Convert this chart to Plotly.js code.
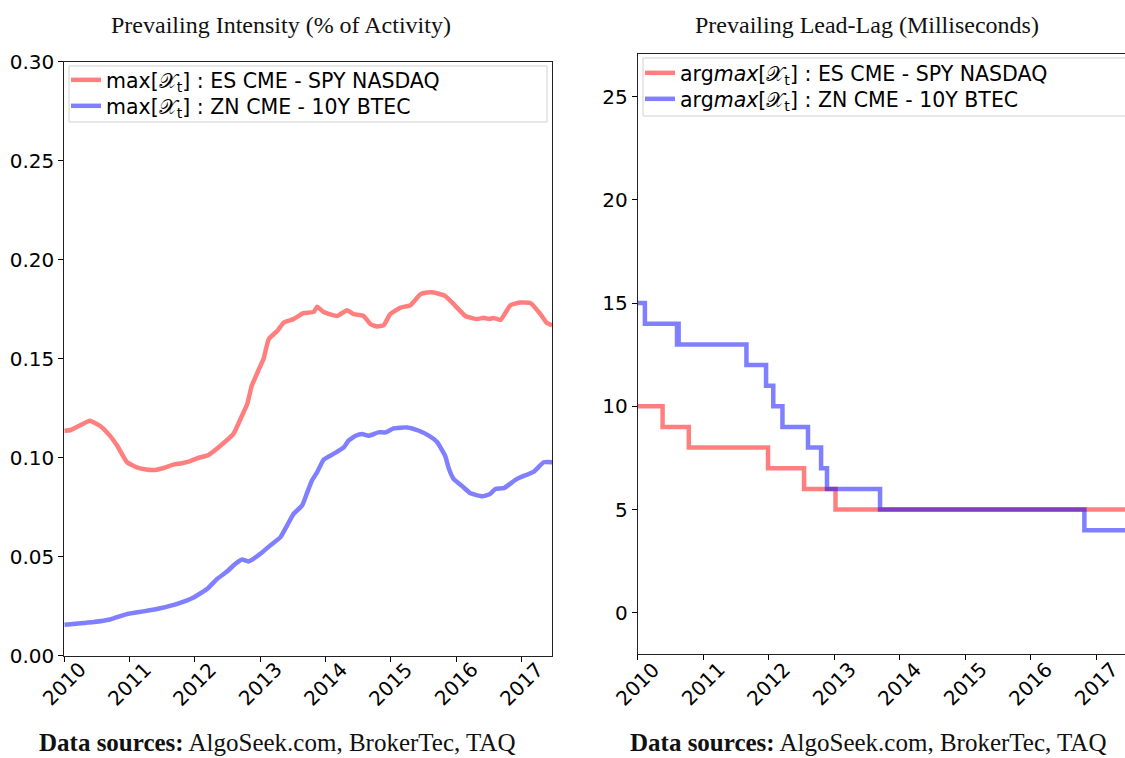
<!DOCTYPE html>
<html>
<head>
<meta charset="utf-8">
<script src="https://cdn.plot.ly/plotly-3.0.1.min.js"></script>
<style>html,body{margin:0;padding:0;background:#fff;}#chart{width:1125px;height:758px;}</style>
</head>
<body>
<div id="chart"></div>
<script>
// ---- Left panel: prevailing intensity (% of activity) ----
const esTime = [2010.00, 2010.10, 2010.25, 2010.39, 2010.55, 2010.70, 2010.81, 2010.96, 2011.11, 2011.25, 2011.39, 2011.52, 2011.67, 2011.80, 2011.93, 2012.03, 2012.21, 2012.39, 2012.59, 2012.72, 2012.80, 2012.87, 2012.98, 2013.05, 2013.13, 2013.26, 2013.36, 2013.51, 2013.66, 2013.82, 2013.87, 2013.97, 2014.18, 2014.33, 2014.43, 2014.58, 2014.69, 2014.79, 2014.89, 2014.99, 2015.15, 2015.30, 2015.45, 2015.55, 2015.66, 2015.83, 2015.99, 2016.14, 2016.32, 2016.42, 2016.50, 2016.57, 2016.68, 2016.83, 2016.98, 2017.14, 2017.29, 2017.39, 2017.47];
const esIntensity = [0.1136, 0.1140, 0.1165, 0.1187, 0.1160, 0.1110, 0.1060, 0.0977, 0.0951, 0.0940, 0.0938, 0.0948, 0.0965, 0.0972, 0.0983, 0.0997, 0.1014, 0.1060, 0.1120, 0.1212, 0.1270, 0.1363, 0.1447, 0.1498, 0.1599, 0.1640, 0.1683, 0.1700, 0.1730, 0.1736, 0.1763, 0.1736, 0.1716, 0.1745, 0.1725, 0.1716, 0.1674, 0.1663, 0.1669, 0.1725, 0.1758, 0.1770, 0.1825, 0.1834, 0.1834, 0.1817, 0.1766, 0.1716, 0.1700, 0.1707, 0.1700, 0.1706, 0.1696, 0.1770, 0.1784, 0.1780, 0.1725, 0.1680, 0.1669];
const znTime = [2010.00, 2010.45, 2010.70, 2010.96, 2011.21, 2011.47, 2011.73, 2011.98, 2012.19, 2012.34, 2012.49, 2012.62, 2012.72, 2012.82, 2013.00, 2013.15, 2013.31, 2013.41, 2013.51, 2013.64, 2013.72, 2013.79, 2013.87, 2013.97, 2014.12, 2014.28, 2014.35, 2014.46, 2014.56, 2014.66, 2014.81, 2014.92, 2015.04, 2015.25, 2015.43, 2015.58, 2015.71, 2015.83, 2015.89, 2015.96, 2016.11, 2016.22, 2016.40, 2016.52, 2016.60, 2016.73, 2016.93, 2017.19, 2017.34, 2017.47];
const znIntensity = [0.0156, 0.0170, 0.0183, 0.0210, 0.0224, 0.0240, 0.0262, 0.0294, 0.0338, 0.0388, 0.0425, 0.0464, 0.0486, 0.0476, 0.0514, 0.0556, 0.0599, 0.0657, 0.0716, 0.0758, 0.0825, 0.0884, 0.0926, 0.0990, 0.1019, 0.1052, 0.1086, 0.1111, 0.1120, 0.1111, 0.1128, 0.1128, 0.1148, 0.1153, 0.1136, 0.1111, 0.1078, 0.1010, 0.0943, 0.0893, 0.0851, 0.0820, 0.0805, 0.0817, 0.0842, 0.0846, 0.0893, 0.0930, 0.0977, 0.0977];

// ---- Right panel: prevailing lead-lag (milliseconds), step changes ----
const esLagTime = [2010.00, 2010.38, 2010.78, 2011.99, 2012.54, 2013.02, 2017.47];
const esLag = [10, 9, 8, 7, 6, 5, 5];
const znLagTime = [2010.00, 2010.11, 2010.60, 2010.61, 2010.625, 2011.66, 2011.96, 2012.07, 2012.21, 2012.60, 2012.80, 2012.89, 2013.70, 2016.82, 2017.47];
const znLag = [15, 14, 13, 14, 13, 12, 11, 10, 9, 8, 7, 6, 5, 4, 4];

const yearTicks = [2010, 2011, 2012, 2013, 2014, 2015, 2016, 2017];
const yearLabels = ['2010', '2011', '2012', '2013', '2014', '2015', '2016', '2017'];

const leftTitle = 'Prevailing Intensity (% of Activity)';
const rightTitle = 'Prevailing Lead-Lag (Milliseconds)';
const footer = '<b>Data sources:</b> AlgoSeek.com, BrokerTec, TAQ';

const X = '𝒳';
const nameES = 'max[' + X + '<sub>t</sub>] : ES CME - SPY NASDAQ';
const nameZN = 'max[' + X + '<sub>t</sub>] : ZN CME - 10Y BTEC';
const nameES2 = 'arg<i>max</i>[' + X + '<sub>t</sub>] : ES CME - SPY NASDAQ';
const nameZN2 = 'arg<i>max</i>[' + X + '<sub>t</sub>] : ZN CME - 10Y BTEC';

const RED = 'rgba(255,0,0,0.5)';
const BLUE = 'rgba(0,0,255,0.5)';
const LW = 4.5;

const W = 1125, H = 758;
const px = v => v / W;
const py = v => 1 - v / H;

const traces = [
  {x: esTime, y: esIntensity, type: 'scatter', mode: 'lines', name: nameES,
   line: {color: RED, width: LW, shape: 'spline', smoothing: 0.4}, xaxis: 'x', yaxis: 'y', legend: 'legend'},
  {x: znTime, y: znIntensity, type: 'scatter', mode: 'lines', name: nameZN,
   line: {color: BLUE, width: LW, shape: 'spline', smoothing: 0.4}, xaxis: 'x', yaxis: 'y', legend: 'legend2'},
  {x: esLagTime, y: esLag, type: 'scatter', mode: 'lines', name: nameES2,
   line: {color: RED, width: LW, shape: 'hv'}, xaxis: 'x2', yaxis: 'y2', legend: 'legend3'},
  {x: znLagTime, y: znLag, type: 'scatter', mode: 'lines', name: nameZN2,
   line: {color: BLUE, width: LW, shape: 'hv'}, xaxis: 'x2', yaxis: 'y2', legend: 'legend4'}
];

const tickFont = {family: 'DejaVu Sans', size: 20, color: '#000'};
const axisCommon = {
  showgrid: false, zeroline: false, showline: true, linecolor: '#222', linewidth: 1,
  ticks: 'outside', ticklen: 5, tickwidth: 1, tickcolor: '#000', tickfont: tickFont
};

const legendFont = {family: 'DejaVu Sans', size: 20.5, color: '#000'};
function mkLegend(xp, yp) {
  return {x: px(xp), y: py(yp), xanchor: 'left', yanchor: 'middle',
    bgcolor: 'rgba(0,0,0,0)', borderwidth: 0, font: legendFont, itemwidth: 30};
}

const annotations = [
  {text: leftTitle, xref: 'paper', yref: 'paper', x: px(281), y: py(25), showarrow: false,
   xanchor: 'center', yanchor: 'middle', font: {family: 'Liberation Serif', size: 24, color: '#111'}},
  {text: rightTitle, xref: 'paper', yref: 'paper', x: px(867), y: py(25), showarrow: false,
   xanchor: 'center', yanchor: 'middle', font: {family: 'Liberation Serif', size: 24, color: '#111'}},
  {text: footer, xref: 'paper', yref: 'paper', x: px(277), y: 0, showarrow: false,
   xanchor: 'center', yanchor: 'bottom', font: {family: 'Liberation Serif', size: 25, color: '#111'}},
  {text: footer, xref: 'paper', yref: 'paper', x: px(868), y: 0, showarrow: false,
   xanchor: 'center', yanchor: 'bottom', font: {family: 'Liberation Serif', size: 25, color: '#111'}}
];
// rotated year labels centred under each tick (matplotlib style)
['x', 'x2'].forEach(ax => {
  yearTicks.forEach((t, i) => {
    annotations.push({text: yearLabels[i], xref: ax, yref: 'paper', x: t, y: py(684),
      showarrow: false, textangle: -45, xanchor: 'center', yanchor: 'middle',
      font: tickFont});
  });
});

const layout = {
  width: W, height: H,
  margin: {l: 0, r: 0, t: 0, b: 0},
  paper_bgcolor: '#fff', plot_bgcolor: '#fff',
  showlegend: true,
  xaxis: Object.assign({}, axisCommon, {
    domain: [px(64.3), px(552)], range: [2010, 2017.467],
    tickvals: yearTicks, showticklabels: false, mirror: true, anchor: 'y'
  }),
  yaxis: Object.assign({}, axisCommon, {
    domain: [py(655.7), py(61.7)], range: [0, 0.30], dtick: 0.05, tick0: 0,
    tickformat: '.2f', mirror: true, anchor: 'x'
  }),
  xaxis2: Object.assign({}, axisCommon, {
    domain: [px(637.7), 1], range: [2010, 2017.44],
    tickvals: yearTicks, showticklabels: false, mirror: true, anchor: 'y2'
  }),
  yaxis2: Object.assign({}, axisCommon, {
    domain: [py(654), py(54)], range: [-2, 27.07], dtick: 5, tick0: 0,
    mirror: false, anchor: 'x2'
  }),
  legend: mkLegend(66, 80),
  legend2: mkLegend(66, 106),
  legend3: mkLegend(640, 73),
  legend4: mkLegend(640, 99),
  shapes: [
    {type: 'rect', xref: 'paper', yref: 'paper', x0: px(69), x1: px(547), y0: py(122), y1: py(66),
     line: {color: '#d0d0d0', width: 1}, fillcolor: 'rgba(255,255,255,0.8)', layer: 'above'},
    {type: 'rect', xref: 'paper', yref: 'paper', x0: px(643), x1: 1.02, y0: py(116), y1: py(58),
     line: {color: '#d0d0d0', width: 1}, fillcolor: 'rgba(255,255,255,0.8)', layer: 'above'}
  ],
  annotations: annotations
};

Plotly.newPlot('chart', traces, layout, {displayModeBar: false, staticPlot: true});
</script>
</body>
</html>
